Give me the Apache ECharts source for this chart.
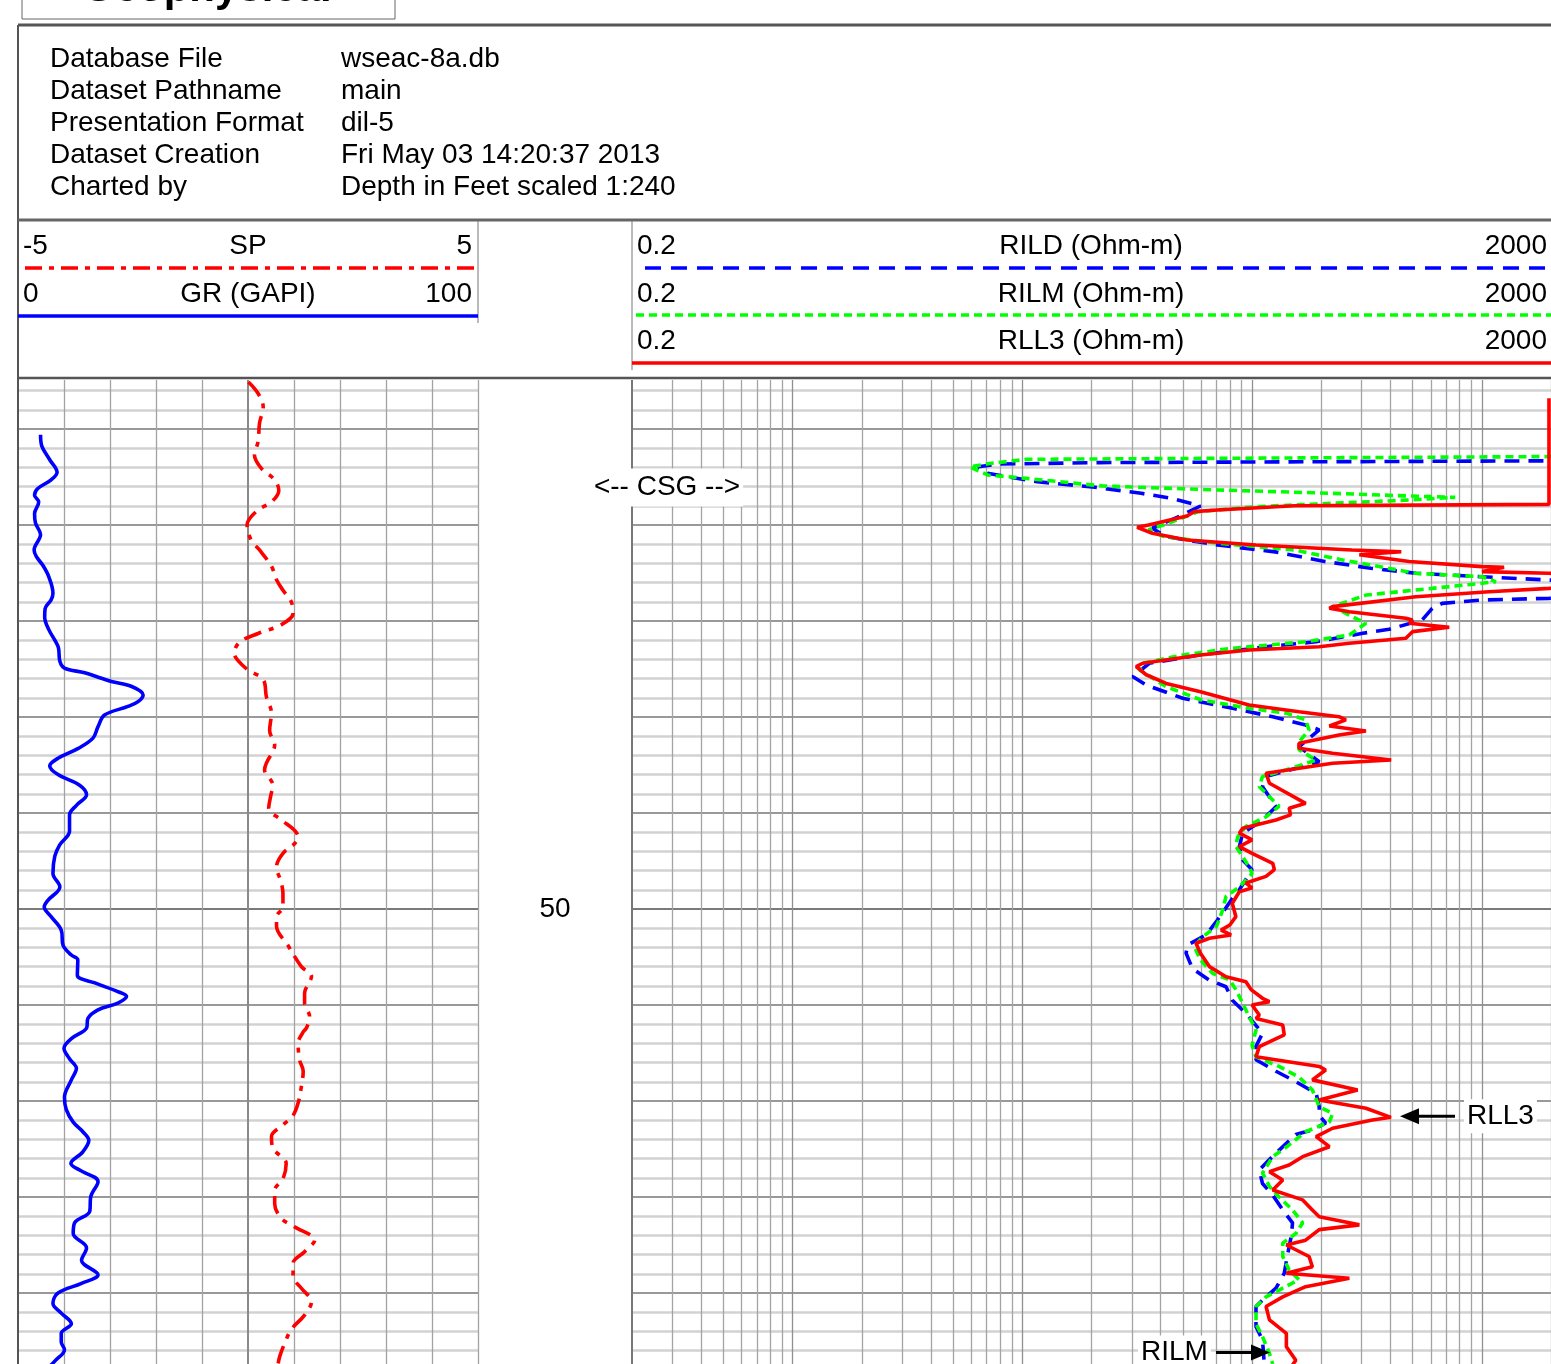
<!DOCTYPE html>
<html><head><meta charset="utf-8">
<script src="https://cdn.jsdelivr.net/npm/echarts/dist/echarts.min.js"></script>
<style>html,body{margin:0;padding:0;background:#fff}#c{width:1551px;height:1364px}</style>
</head><body><div id="c"></div>
<script>
const FONT = '"Liberation Sans", Arial, sans-serif';
const titleText = 'Geophysical';
const headerLabels = ['Database File', 'Dataset Pathname', 'Presentation Format', 'Dataset Creation', 'Charted by'];
const headerValues = ['wseac-8a.db', 'main', 'dil-5', 'Fri May 03 14:20:37 2013', 'Depth in Feet scaled 1:240'];
const track1Scales = [['-5', 'SP', '5'], ['0', 'GR (GAPI)', '100']];
const track2Scales = [['0.2', 'RILD (Ohm-m)', '2000'], ['0.2', 'RILM (Ohm-m)', '2000'], ['0.2', 'RLL3 (Ohm-m)', '2000']];
const depthRange = [-5.104, 97.396];
const depthLabels = [50];
const grRange = [0, 100];
const spRange = [-5, 5];
const resRange = [0.2, 2000];

// [depth (ft), value]
const GR = [[0.6,4.9],[1.8,5.2],[3.2,6.9],[4.5,8.5],[5.3,7.2],[6.2,4.3],[6.9,3.6],[7.6,4.5],[8.8,3.6],[9.8,3.8],[11.0,4.9],[12.6,3.5],[13.3,4.0],[14.2,5.4],[15.4,6.7],[17.1,7.6],[17.8,7.2],[18.7,5.9],[19.6,5.8],[20.9,6.7],[22.0,8.0],[22.8,8.8],[24.2,9.1],[24.9,10.1],[25.4,14.5],[26.3,20.3],[26.8,24.6],[27.7,27.2],[28.4,26.1],[28.9,23.9],[29.8,18.8],[31.0,17.4],[32.2,16.3],[33.3,13.0],[34.3,8.7],[35.1,6.9],[36.0,8.7],[37.1,13.4],[38.1,14.9],[39.2,12.7],[40.2,11.2],[41.9,11.2],[43.3,9.1],[44.5,8.0],[46.3,7.6],[47.7,9.1],[49.1,6.5],[49.8,5.7],[50.8,7.2],[52.2,9.4],[53.8,9.8],[54.8,11.6],[55.3,13.0],[56.9,12.9],[57.7,16.7],[58.6,21.7],[59.1,23.6],[59.8,21.7],[60.5,17.4],[61.4,15.2],[62.4,14.9],[63.5,11.6],[64.5,10.0],[65.6,11.2],[66.6,12.7],[67.8,11.6],[69.6,10.1],[70.9,10.5],[72.2,12.0],[73.2,14.1],[74.1,15.4],[75.3,14.1],[76.5,11.5],[77.2,13.4],[78.4,17.4],[80.0,15.8],[81.5,15.6],[82.7,12.3],[83.8,12.0],[85.3,14.9],[86.6,13.8],[88.1,17.4],[89.0,13.8],[90.0,8.7],[91.1,7.6],[92.1,9.4],[93.2,11.6],[94.2,9.4],[95.1,9.4],[95.9,10.1],[97.1,8.0],[97.6,7.0]];
const SP = [[-4.9,0.01],[-3.7,0.22],[-2.3,0.33],[-0.6,0.25],[1.3,0.22],[2.7,0.14],[4.1,0.29],[5.3,0.58],[6.4,0.67],[7.6,0.51],[8.5,0.20],[10.0,-0.02],[11.6,0.07],[12.6,0.25],[14.3,0.51],[15.7,0.62],[16.8,0.76],[18.0,0.94],[19.2,0.98],[20.4,0.72],[21.3,0.22],[22.2,-0.18],[23.4,-0.30],[24.1,-0.22],[25.1,0.0],[26.1,0.33],[27.9,0.40],[29.6,0.51],[31.4,0.47],[32.9,0.58],[34.8,0.40],[35.5,0.36],[37.1,0.54],[38.3,0.49],[39.5,0.45],[40.7,0.72],[41.8,1.01],[42.5,1.09],[43.2,1.01],[44.2,0.76],[45.6,0.62],[47.2,0.72],[48.4,0.76],[49.8,0.76],[50.8,0.62],[51.8,0.62],[53.8,0.87],[56.0,1.16],[57.0,1.38],[58.8,1.23],[59.8,1.23],[61.2,1.34],[62.4,1.27],[62.8,1.20],[64.0,1.09],[65.7,1.12],[66.9,1.20],[68.5,1.16],[70.2,1.09],[71.5,0.98],[72.5,0.76],[73.7,0.51],[74.9,0.54],[76.5,0.83],[78.1,0.76],[79.3,0.58],[80.7,0.58],[82.2,0.72],[83.1,1.01],[84.5,1.45],[85.7,1.23],[86.9,0.98],[88.3,0.98],[89.5,1.16],[90.9,1.38],[92.3,1.23],[93.8,0.94],[95.2,0.80],[96.6,0.69],[97.5,0.65]];
const RILD = [[3.3,3000],[3.5,21.7],[3.65,7.96],[3.93,6.43],[4.61,7.06],[5.49,11.6],[6.07,20.7],[6.70,32.9],[7.22,44.7],[8.02,59.6],[9.1,48.3],[10.34,36.8],[11.2,42],[12.08,70.6],[12.8,126],[13.8,207],[14.5,329],[15.03,516],[15.39,1002],[15.73,1960],[16.0,3000],[17.4,3000],[17.64,1960],[17.81,1002],[18.16,672],[18.68,608],[19.9,550],[20.86,395],[21.28,303],[22.16,190],[22.68,115],[23.54,59],[24.4,35.7],[25.8,30.3],[26.67,34.6],[28.05,49.9],[29.1,82.3],[29.97,123],[30.83,171],[31.35,196],[33.1,160],[34.66,196],[36.2,115],[37.26,111],[39.34,127],[40.73,111],[42.1,91],[43.5,88],[44.9,91],[45.9,100],[48.0,88],[48.9,82],[51.3,70],[52.7,63],[53.75,52.5],[54.6,51.6],[56.2,55],[57.4,65],[58.1,77],[59.5,82],[60.86,94],[62.95,111],[64.3,104],[65.7,104],[66.9,127],[67.8,150],[69.2,190],[70.6,196],[71.5,196],[72.3,209],[73.0,183],[73.5,155],[74.4,141],[76.1,119],[77.2,107.5],[78.6,111],[79.8,123],[81.35,136],[82.7,150],[84.1,148],[85.9,143],[87.95,138],[89.5,127],[90.4,115],[91.4,104],[93.5,104],[94.9,111],[97.4,113]];
const RILM = [[2.85,3000],[3.16,10.4],[3.6,7.2],[3.95,5.9],[4.79,7.06],[5.14,10.4],[5.94,22.4],[6.35,70.6],[6.7,224],[6.98,483],[7.12,766],[7.4,483],[7.74,224],[8.09,104],[8.61,58.4],[9.97,41.4],[10.5,35.4],[11.2,41.4],[11.9,70.6],[12.6,152.7],[13.65,248],[14.17,329],[15.03,516],[15.39,1002],[15.9,1151],[16.07,1002],[16.6,608],[17.3,313],[18.5,224],[19.4,265],[20.24,313],[21.46,265],[22.16,171],[22.84,82],[23.54,50],[24.4,33.4],[25.1,32.4],[26.84,42.3],[28.2,59.6],[29.1,97],[29.6,141],[30.3,171],[31.35,177],[32.6,160],[33.4,160],[34.5,190],[35.5,141],[36.2,111],[37.26,107.5],[38.65,123],[39.3,131],[40.4,115],[41.4,94],[42.5,86.5],[43.5,85],[44.55,91],[45.6,97],[46.3,100],[47.7,88],[48.7,77],[50.1,74.5],[51.8,70],[52.9,61],[53.9,56],[55.3,59.6],[56.7,67.3],[57.4,80],[58.4,85],[59.8,91],[61.2,97],[62.6,104],[64.2,100],[65.4,104],[66.4,131],[67.5,160],[68.85,183],[70.6,196],[71.3,224],[72.2,217],[73.2,171],[74.8,141],[75.8,123],[77.5,111],[78.9,119],[80.0,131],[81.35,150],[82.7,166],[83.8,155],[84.8,136],[86.2,136],[87.6,145],[88.6,160],[89.7,131],[90.4,115],[91.4,104],[93.2,104],[94.55,111],[96.3,119],[97.4,123]];
const RLL3 = [[-3.2,1960],[7.85,1960],[8.0,153],[8.44,70.6],[8.61,56],[9.06,52.1],[10.0,35.4],[10.24,31.6],[10.86,36.8],[11.56,52.1],[12.08,104],[12.6,272],[12.78,446],[13.1,293],[13.8,483],[14.34,1002],[14.4,1250],[14.86,1002],[15.03,1960],[15.3,3000],[16.3,3000],[16.6,1960],[16.95,1074],[17.47,516],[18.5,224],[18.68,217],[19.03,265],[19.72,467],[19.9,499],[20.24,484],[20.66,721],[21.11,499],[21.8,467],[22.32,265],[22.68,196],[23.02,97],[23.54,59.6],[24.4,33.4],[24.76,31.3],[25.6,34.6],[26.5,42.3],[27.36,59.6],[28.75,97],[29.45,160],[29.97,239],[30.3,256],[30.94,217],[31.46,313],[31.87,239],[32.74,160],[33.26,160],[33.78,224],[34.48,403],[34.82,224],[35.86,115],[36.9,119],[38.99,171],[39.5,145],[40.2,147],[40.73,127],[41.6,91],[42.1,88],[42.8,100],[43.5,88],[44.2,100],[45.24,123],[45.9,125],[46.6,115],[47.3,94],[47.8,100],[48.2,88],[49.4,82],[50.8,85],[51.67,80],[52.2,73.3],[52.7,81],[53.05,65.2],[53.57,57],[54.6,59.6],[56.0,65.2],[57.05,77],[57.57,94],[58.4,99],[59.3,111],[59.65,119],[60.0,100],[61.04,107.5],[61.4,104],[62.08,136],[63.1,138],[64.34,107.5],[65.4,104],[66.4,196],[66.77,209],[67.8,183],[68.85,288],[69.9,196],[70.76,313],[71.7,402],[71.98,334],[72.84,224],[73.7,190],[74.76,217],[75.8,166],[76.67,145],[77.36,119],[78.23,136],[79.27,123],[80.3,166],[81.35,183],[82.05,196],[82.9,293],[83.4,196],[84.5,171],[85.0,141],[86.2,177],[87.26,183],[87.95,141],[88.47,265],[89.34,171],[90.4,136],[91.4,115],[92.8,119],[94.2,141],[95.6,141],[97.0,155],[97.5,150]];

const swap = arr => arr.map(p => [p[1], p[0]]);

// grid lines (through axes)
const hLines = [];
for (let d = -4; d <= 96; d += 2) {
  const major = d % 10 === 0;
  hLines.push({yAxis: d, lineStyle: {color: d === 50 ? '#7a7a7a' : (major ? '#999999' : '#d2d2d2'), width: major ? 2 : 2.5, type: 'solid'}});
}
const vLines1 = [];
for (let g = 0; g <= 100; g += 10) {
  vLines1.push({xAxis: g, lineStyle: {color: g === 0 ? '#555' : (g === 50 ? '#8a8a8a' : '#a2a2a2'), width: g === 0 || g === 50 ? 2 : 1.3, type: 'solid'}});
}
const vLines2 = [];
[0.1, 1, 10, 100, 1000].forEach(base => {
  for (let k = 1; k <= 9; k++) {
    const v = +(k * base).toPrecision(3);
    if (v >= 0.2 && v <= 2000) {
      vLines2.push({xAxis: v, lineStyle: {color: v === 0.2 ? '#777' : (k === 1 ? '#909090' : '#a4a4a4'), width: v === 0.2 ? 2 : 1.3, type: 'solid'}});
    }
  }
});
const ml = data => ({silent: true, symbol: ['none', 'none'], label: {show: false}, animation: false, emphasis: {disabled: true}, data});

const txt = (x, y, text, opt) => Object.assign({
  type: 'text', z: 50, x: 0, y: 0,
  style: Object.assign({text, x, y, font: '28px ' + FONT, fill: '#000', align: 'left', textAlign: 'left', verticalAlign: 'middle', textVerticalAlign: 'middle'}, opt || {})
});
const ln = (x1, y1, x2, y2, stroke, w, dash) => ({type: 'line', z: 40, shape: {x1, y1, x2, y2}, style: {stroke, lineWidth: w, lineDash: dash || null}});

const graphics = [];
// title box
graphics.push({type: 'rect', z: 40, shape: {x: 22, y: -30, width: 373, height: 49}, style: {fill: '#fff', stroke: '#666', lineWidth: 1}});
graphics.push(txt(82, -11, titleText, {font: 'bold 42px ' + FONT}));
// frame lines
graphics.push(ln(18, 25, 1551, 25, '#555', 3));
graphics.push(ln(18, 25, 18, 1364, '#555', 2));
graphics.push(ln(18, 220, 1551, 220, '#666', 3));
graphics.push(ln(478, 221, 478, 323, '#777', 1));
graphics.push(ln(632, 221, 632, 370, '#777', 1));
graphics.push(ln(18, 378, 1551, 378, '#555', 2.5));
// header info
headerLabels.forEach((t, i) => graphics.push(txt(50, 59 + i * 32, t)));
headerValues.forEach((t, i) => graphics.push(txt(341, 59 + i * 32, t)));
// track 1 scale headers
const t1y = [246, 294];
track1Scales.forEach((s, i) => {
  graphics.push(txt(23, t1y[i], s[0]));
  graphics.push(txt(248, t1y[i], s[1], {align: 'center', textAlign: 'center'}));
  graphics.push(txt(472, t1y[i], s[2], {align: 'right', textAlign: 'right'}));
});
graphics.push(ln(25, 268, 478, 268, '#ff0000', 3.5, [17, 7, 5, 7]));
graphics.push(ln(18, 316, 478, 316, '#0000ff', 3.5));
const t2y = [246, 294, 341];
track2Scales.forEach((s, i) => {
  graphics.push(txt(637, t2y[i], s[0]));
  graphics.push(txt(1091, t2y[i], s[1], {align: 'center', textAlign: 'center'}));
  graphics.push(txt(1547, t2y[i], s[2], {align: 'right', textAlign: 'right'}));
});
graphics.push(ln(645, 268, 1551, 268, '#0000ff', 3.5, [16, 10]));
graphics.push(ln(636, 315, 1551, 315, '#00ff00', 3.5, [8, 5]));
graphics.push(ln(632, 363, 1551, 363, '#ff0000', 3.5));

const series = [
  {type: 'line', xAxisIndex: 0, yAxisIndex: 0, data: [], z: 1, markLine: ml(hLines.concat(vLines1))},
  {type: 'line', xAxisIndex: 2, yAxisIndex: 1, data: [], z: 1, markLine: ml(hLines.concat(vLines2))},
  {name: 'GR', type: 'line', xAxisIndex: 0, yAxisIndex: 0, data: swap(GR), showSymbol: false, smooth: 0.35, z: 5, lineStyle: {color: '#0000ff', width: 3.6}},
  {name: 'SP', type: 'line', xAxisIndex: 1, yAxisIndex: 0, data: swap(SP), showSymbol: false, smooth: 0.35, z: 5, lineStyle: {color: '#ff0000', width: 3.6, type: [18, 8, 5, 8]}},
  {name: 'RILD', type: 'line', xAxisIndex: 2, yAxisIndex: 1, data: swap(RILD), showSymbol: false, z: 5, lineStyle: {color: '#0000ff', width: 3.6, type: [15, 9]}},
  {name: 'RILM', type: 'line', xAxisIndex: 2, yAxisIndex: 1, data: swap(RILM), showSymbol: false, z: 6, lineStyle: {color: '#00ff00', width: 3.6, type: [8, 5]}},
  {name: 'RLL3', type: 'line', xAxisIndex: 2, yAxisIndex: 1, data: swap(RLL3), showSymbol: false, z: 7, lineStyle: {color: '#ff0000', width: 3.6}}
];

const chart = echarts.init(document.getElementById('c'), null, {renderer: 'canvas', width: 1551, height: 1364});
chart.setOption({
  animation: false,
  backgroundColor: '#fff',
  grid: [
    {left: 18, top: 380, width: 460, height: 984},
    {left: 632, top: 380, width: 920, height: 984}
  ],
  xAxis: [
    {gridIndex: 0, type: 'value', min: grRange[0], max: grRange[1], show: false},
    {gridIndex: 0, type: 'value', min: spRange[0], max: spRange[1], show: false},
    {gridIndex: 1, type: 'log', logBase: 10, min: resRange[0], max: resRange[1], show: false}
  ],
  yAxis: [
    {gridIndex: 0, type: 'value', inverse: true, min: depthRange[0], max: depthRange[1], show: false},
    {gridIndex: 1, type: 'value', inverse: true, min: depthRange[0], max: depthRange[1], show: false}
  ],
  series,
  graphic: graphics
});

// depth labels and annotations, positioned through the depth axis
const extra = [];
depthLabels.forEach(d => {
  const p = chart.convertToPixel({yAxisIndex: 0}, d);
  extra.push(txt(555, p, String(d), {align: 'center', textAlign: 'center'}));
});
const csgY = chart.convertToPixel({yAxisIndex: 0}, 6.1);
extra.push(txt(667, csgY, '<-- CSG -->', {align: 'center', textAlign: 'center', backgroundColor: '#fff', padding: [5, 3, 5, 3]}));
const rllY = chart.convertToPixel({yAxisIndex: 1}, 71.6);
extra.push(ln(1455, rllY, 1414, rllY, '#000', 3));
extra.push({type: 'polygon', z: 60, shape: {points: [[1400, rllY], [1419, rllY - 8], [1419, rllY + 8]]}, style: {fill: '#000'}});
extra.push(txt(1464, rllY, 'RLL3', {backgroundColor: '#fff', padding: [3, 3, 3, 3]}));
const rilmY = chart.convertToPixel({yAxisIndex: 1}, 96.2);
extra.push(txt(1138, rilmY, 'RILM', {backgroundColor: '#fff', padding: [3, 3, 3, 3]}));
extra.push(ln(1216, rilmY, 1256, rilmY, '#000', 3));
extra.push({type: 'polygon', z: 60, shape: {points: [[1270, rilmY], [1251, rilmY - 8], [1251, rilmY + 8]]}, style: {fill: '#000'}});
chart.setOption({graphic: graphics.concat(extra)});
</script></body></html>
